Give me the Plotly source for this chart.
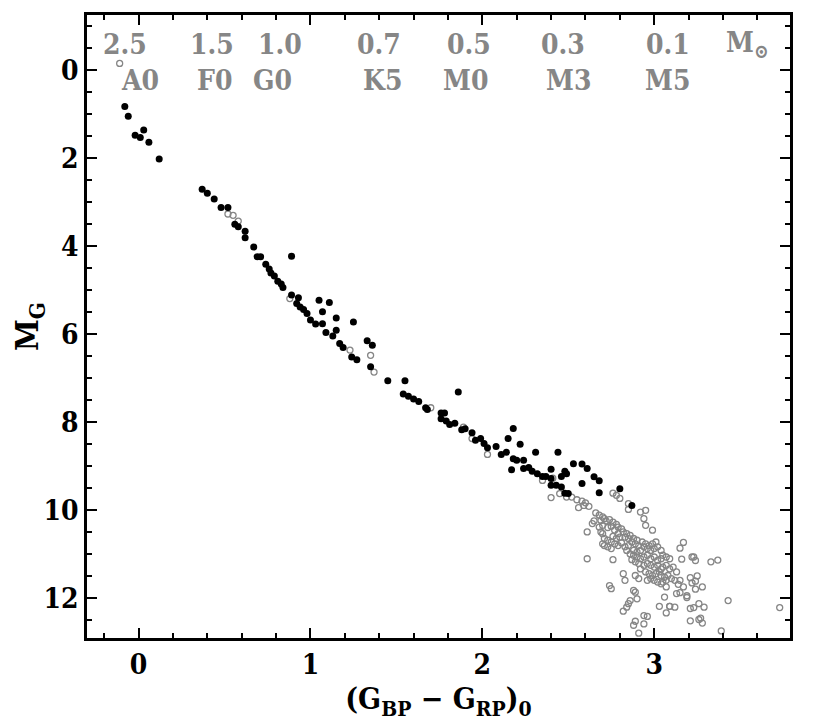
import plotly.graph_objects as go

# ---- data (colour index (G_BP - G_RP)_0, absolute magnitude M_G) ----
black_color = [-0.08, -0.06, -0.02, 0.01, 0.03, 0.06, 0.12,
               0.37, 0.40, 0.44, 0.48, 0.52, 0.56, 0.58, 0.62, 0.62, 0.67, 0.69, 0.71, 0.89,
               0.74, 0.76, 0.77, 0.79, 0.81, 0.83, 0.84, 0.89, 0.93, 0.92, 0.94, 0.96, 0.98, 1.00, 1.03,
               1.05, 1.11, 1.07, 1.07, 1.15, 1.09, 1.13, 1.15, 1.25, 1.17, 1.19, 1.24, 1.27, 1.33, 1.36, 1.35,
               1.45, 1.55, 1.54, 1.57, 1.60, 1.63, 1.67, 1.86, 1.68, 1.76, 1.78, 1.76, 1.79, 1.81, 1.84,
               1.88, 1.90, 1.94, 1.96, 1.99, 2.01, 2.03, 2.08, 2.11, 2.14, 2.18, 2.15, 2.22, 2.18, 2.20, 2.24,
               2.17, 2.24, 2.27, 2.31, 2.29, 2.32, 2.35, 2.37, 2.40, 2.44, 2.40, 2.40, 2.43, 2.46, 2.48, 2.49,
               2.53, 2.46, 2.48, 2.50, 2.58, 2.61, 2.58, 2.65, 2.68, 2.68, 2.80, 2.87]
black_mag = [0.83, 1.05, 1.48, 1.53, 1.36, 1.64, 2.02,
             2.71, 2.80, 2.93, 3.12, 3.12, 3.50, 3.56, 3.66, 3.81, 4.02, 4.24, 4.24, 4.23,
             4.41, 4.52, 4.61, 4.68, 4.80, 4.86, 4.94, 5.11, 5.17, 5.30, 5.38, 5.44, 5.53, 5.68, 5.77,
             5.23, 5.28, 5.49, 5.76, 5.63, 5.96, 6.04, 5.91, 5.72, 6.21, 6.30, 6.52, 6.58, 6.15, 6.25, 6.74,
             7.06, 7.06, 7.36, 7.41, 7.47, 7.53, 7.67, 7.31, 7.71, 7.79, 7.79, 7.92, 7.97, 8.05, 8.02,
             8.17, 8.15, 8.24, 8.41, 8.37, 8.48, 8.58, 8.55, 8.73, 8.68, 8.14, 8.37, 8.50, 8.83, 8.86, 8.86,
             9.08, 9.05, 9.03, 8.68, 9.11, 9.17, 9.23, 9.23, 9.28, 8.68, 9.07, 9.43, 9.43, 9.23, 9.11, 9.17,
             8.94, 9.47, 9.61, 9.62, 8.95, 9.05, 9.39, 9.24, 9.33, 9.60, 9.51, 9.89]

gray_color = [
    # along the main sequence
    -0.11, 0.52, 0.55, 0.58, 0.88, 1.23, 1.35, 1.37, 1.70, 1.89, 1.94, 2.03,
    2.35, 2.41, 2.40, 2.45, 2.49,
    # upper edge of the M-dwarf clump
    2.52, 2.55, 2.58, 2.56, 2.59, 2.60, 2.76, 2.78, 2.80,
    # lower / right edge of the clump
    2.82, 2.94, 2.96, 2.89, 2.88, 2.94, 3.07, 2.91, 3.13, 3.14, 3.15, 3.13, 3.09,
    # dense clump
    2.62, 2.66, 2.68, 2.70, 2.71, 2.69, 2.65, 2.64, 2.72, 2.74, 2.76, 2.78, 2.75, 2.73, 2.70, 2.68,
    2.79, 2.81, 2.77, 2.79, 2.82, 2.84, 2.86, 2.83, 2.85, 2.80, 2.78, 2.76, 2.88, 2.90, 2.87, 2.89,
    2.91, 2.93, 2.95, 2.97, 2.99, 3.01, 2.94, 2.96, 2.98, 3.00, 3.02, 3.04, 2.92, 2.90, 2.88, 2.85,
    2.83, 2.81, 2.79, 2.77, 2.75, 2.73, 2.71, 2.70, 2.69, 2.70, 2.71, 2.73, 2.75, 2.84, 2.86, 2.88,
    2.90, 2.92, 2.94, 2.96, 2.98, 3.00, 3.02, 3.04, 3.05, 3.07, 3.09, 2.87, 2.89, 2.91, 2.94, 2.96,
    2.98, 3.00, 3.02, 3.04, 3.05, 3.07, 3.09, 3.11, 2.92, 2.95, 2.97, 2.99, 3.01, 3.03, 3.04, 3.06,
    3.08, 3.10, 2.98, 3.00, 3.02, 3.04, 3.05, 3.07, 2.96, 2.82, 2.83, 2.91, 2.89, 2.74, 2.75, 2.88,
    2.89, 2.86, 2.85, 2.90, 2.84, 2.95, 2.99, 2.85, 2.85, 2.92, 2.94, 2.95, 2.61, 2.61, 2.76, 3.07,
    3.06, 3.03, 3.12, 3.12, 3.09,
    # redder outliers
    3.17, 3.15, 3.16, 3.22, 3.23, 3.24, 3.33, 3.37, 3.15, 3.17, 3.21, 3.25, 3.24, 3.22,
    3.28, 3.24, 3.19, 3.19, 3.43, 3.73, 3.21, 3.23, 3.26, 3.29, 3.21, 3.26, 3.27, 3.28, 3.39]
gray_mag = [
    -0.15, 3.27, 3.30, 3.43, 5.19, 6.36, 6.48, 6.86, 7.67, 8.11, 8.37, 8.73,
    9.32, 9.27, 9.71, 9.62, 9.70,
    9.70, 9.76, 9.79, 9.94, 9.89, 9.83, 9.61, 9.66, 9.73,
    12.29, 12.39, 12.41, 12.52, 12.61, 12.58, 12.33, 12.79, 11.40, 11.68, 11.59, 11.89, 12.18,
    9.91, 10.06, 10.11, 10.15, 10.19, 10.23, 10.24, 10.30, 10.24, 10.21, 10.27, 10.32, 10.36, 10.39, 10.34, 10.38,
    10.38, 10.42, 10.45, 10.53, 10.49, 10.53, 10.57, 10.61, 10.64, 10.61, 10.64, 10.59, 10.64, 10.68, 10.72, 10.76,
    10.80, 10.72, 10.76, 10.80, 10.76, 10.72, 10.83, 10.87, 10.91, 10.87, 10.83, 10.91, 10.91, 10.95, 10.91, 10.80,
    10.83, 10.74, 10.80, 10.76, 10.72, 10.68, 10.64, 10.53, 10.49, 10.76, 10.80, 10.83, 10.87, 10.91, 10.99, 11.02,
    11.06, 11.10, 11.06, 11.02, 11.10, 11.06, 11.14, 11.10, 11.02, 11.06, 11.10, 11.12, 11.17, 11.21, 11.25, 11.21,
    11.25, 11.29, 11.25, 11.33, 11.29, 11.25, 11.33, 11.29, 11.33, 11.40, 11.44, 11.48, 11.44, 11.40, 11.48, 11.52,
    11.48, 11.55, 11.55, 11.59, 11.63, 11.67, 11.63, 11.59, 11.59, 11.44, 11.59, 11.55, 11.48, 11.71, 11.78, 11.82,
    11.86, 12.05, 12.12, 12.01, 12.20, 10.00, 10.45, 9.85, 9.98, 10.04, 10.19, 10.34, 11.10, 10.49, 11.12, 11.74,
    11.97, 12.18, 12.20, 11.59, 12.18,
    10.73, 10.86, 11.11, 11.06, 11.06, 11.14, 11.17, 11.13, 11.87, 11.74, 11.53, 11.49, 11.61, 11.65,
    11.74, 11.79, 11.94, 11.98, 12.05, 12.21, 12.23, 12.21, 12.12, 12.20, 12.51, 12.48, 12.45, 12.56, 12.74]

mass_labels = ["2.5", "1.5", "1.0", "0.7", "0.5", "0.3", "0.1", "M<sub>⊙</sub>"]
mass_x = [-0.08, 0.43, 0.82, 1.40, 1.92, 2.47, 3.08, 3.54]
mass_y = -0.57
spt_labels = ["A0", "F0", "G0", "K5", "M0", "M3", "M5"]
spt_x = [0.01, 0.44, 0.78, 1.42, 1.90, 2.50, 3.08]
spt_y = 0.24

FONT = "DejaVu Serif Condensed, Liberation Serif, serif"
GRAY = "#868686"

fig = go.Figure()
fig.add_trace(go.Scatter(
    x=gray_color, y=gray_mag, mode="markers",
    marker=dict(symbol="circle-open", size=6, color=GRAY, line=dict(width=1.3, color=GRAY)),
    showlegend=False, hoverinfo="skip"))
fig.add_trace(go.Scatter(
    x=black_color, y=black_mag, mode="markers",
    marker=dict(symbol="circle", size=7, color="black"),
    showlegend=False, hoverinfo="skip"))

for lab, xv in zip(mass_labels, mass_x):
    fig.add_annotation(x=xv, y=mass_y, text="<b>%s</b>" % lab, showarrow=False,
                       xanchor="center", yanchor="middle",
                       font=dict(family=FONT, size=28, color=GRAY))
for lab, xv in zip(spt_labels, spt_x):
    fig.add_annotation(x=xv, y=spt_y, text="<b>%s</b>" % lab, showarrow=False,
                       xanchor="center", yanchor="middle",
                       font=dict(family=FONT, size=28, color=GRAY))

axis_common = dict(
    showgrid=False, zeroline=False, showline=True, linecolor="black", linewidth=2.5,
    mirror="allticks", ticks="inside", ticklen=10, tickwidth=2, tickcolor="black",
    tickfont=dict(family=FONT, size=28, color="black"), automargin=False,
)

fig.update_xaxes(**axis_common, range=[-0.30, 3.79], tickvals=[0, 1, 2, 3],
                 ticktext=["<b>0</b>", "<b>1</b>", "<b>2</b>", "<b>3</b>"],
                 minor=dict(dtick=0.2, tick0=0, ticks="inside", ticklen=5, tickwidth=1.5, tickcolor="black"),
                 title=dict(text="<b>(G<sub>BP</sub> − G<sub>RP</sub>)<sub>0</sub></b>",
                            font=dict(family=FONT, size=30, color="black"), standoff=8))
fig.update_yaxes(**axis_common, range=[12.9, -1.25], tickvals=[0, 2, 4, 6, 8, 10, 12],
                 ticktext=["<b>%d</b>" % v for v in [0, 2, 4, 6, 8, 10, 12]],
                 minor=dict(dtick=0.5, tick0=0, ticks="inside", ticklen=5, tickwidth=1.5, tickcolor="black"),
                 title=dict(text="<b>M<sub>G</sub></b>",
                            font=dict(family=FONT, size=32, color="black"), standoff=6))

# the page adds an 8 px body margin, so the figure is sized to fit inside the window
fig.update_layout(width=822, height=719, margin=dict(l=79, r=40, t=7, b=89),
                  paper_bgcolor="white", plot_bgcolor="white")

fig.write_html("out.html")
